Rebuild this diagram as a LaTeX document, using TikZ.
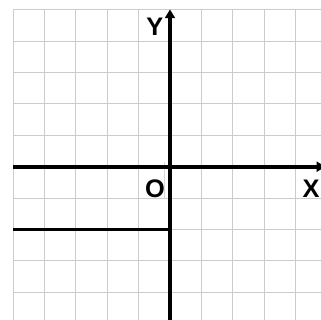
\documentclass[tikz,border=0pt]{standalone}
\usepackage{fontspec}
\setmainfont{Liberation Sans}
\usetikzlibrary{arrows.meta}

\tikzset{
  gridline/.style={gray!40, line width=0.9pt},
  axisline/.style={line width=3.9pt, -{Triangle[length=8pt, width=9pt]}},
  levelline/.style={black, line width=2.3pt},
  axislabel/.style={font=\fontsize{23}{27}\selectfont\bfseries, inner sep=0pt}
}

\begin{document}
\begin{tikzpicture}
  \useasboundingbox (-5.414,-4.882) rectangle (4.809,5.309);
  \clip (-5.414,-4.882) rectangle (4.809,5.309);
  % Grid
  \draw[gridline] (-5,-5) grid (5,5);
  \draw[gray!30, line width=0.5pt] (-0.18,0.15) -- (-0.18,-1);
  % Axes
  \coordinate (xstart) at (-5,0);
  \coordinate (xend) at (4.95,0);
  \coordinate (ystart) at (0,-5);
  \coordinate (yend) at (0,5.01);
  \draw[axisline] (xstart) -- (xend);
  \draw[axisline] (ystart) -- (yend);
  % Line at y = -2
  \coordinate (lstart) at (-5,-2);
  \coordinate (lend) at (0,-2);
  \draw[levelline] (lstart) -- (lend);
  % Labels
  \node[axislabel] (ylabel) at (-0.48,4.45) {Y};
  \node[axislabel] (olabel) at (-0.48,-0.71) {O};
  \node[axislabel] (xlabel) at (4.49,-0.69) {X};
\end{tikzpicture}
\end{document}
